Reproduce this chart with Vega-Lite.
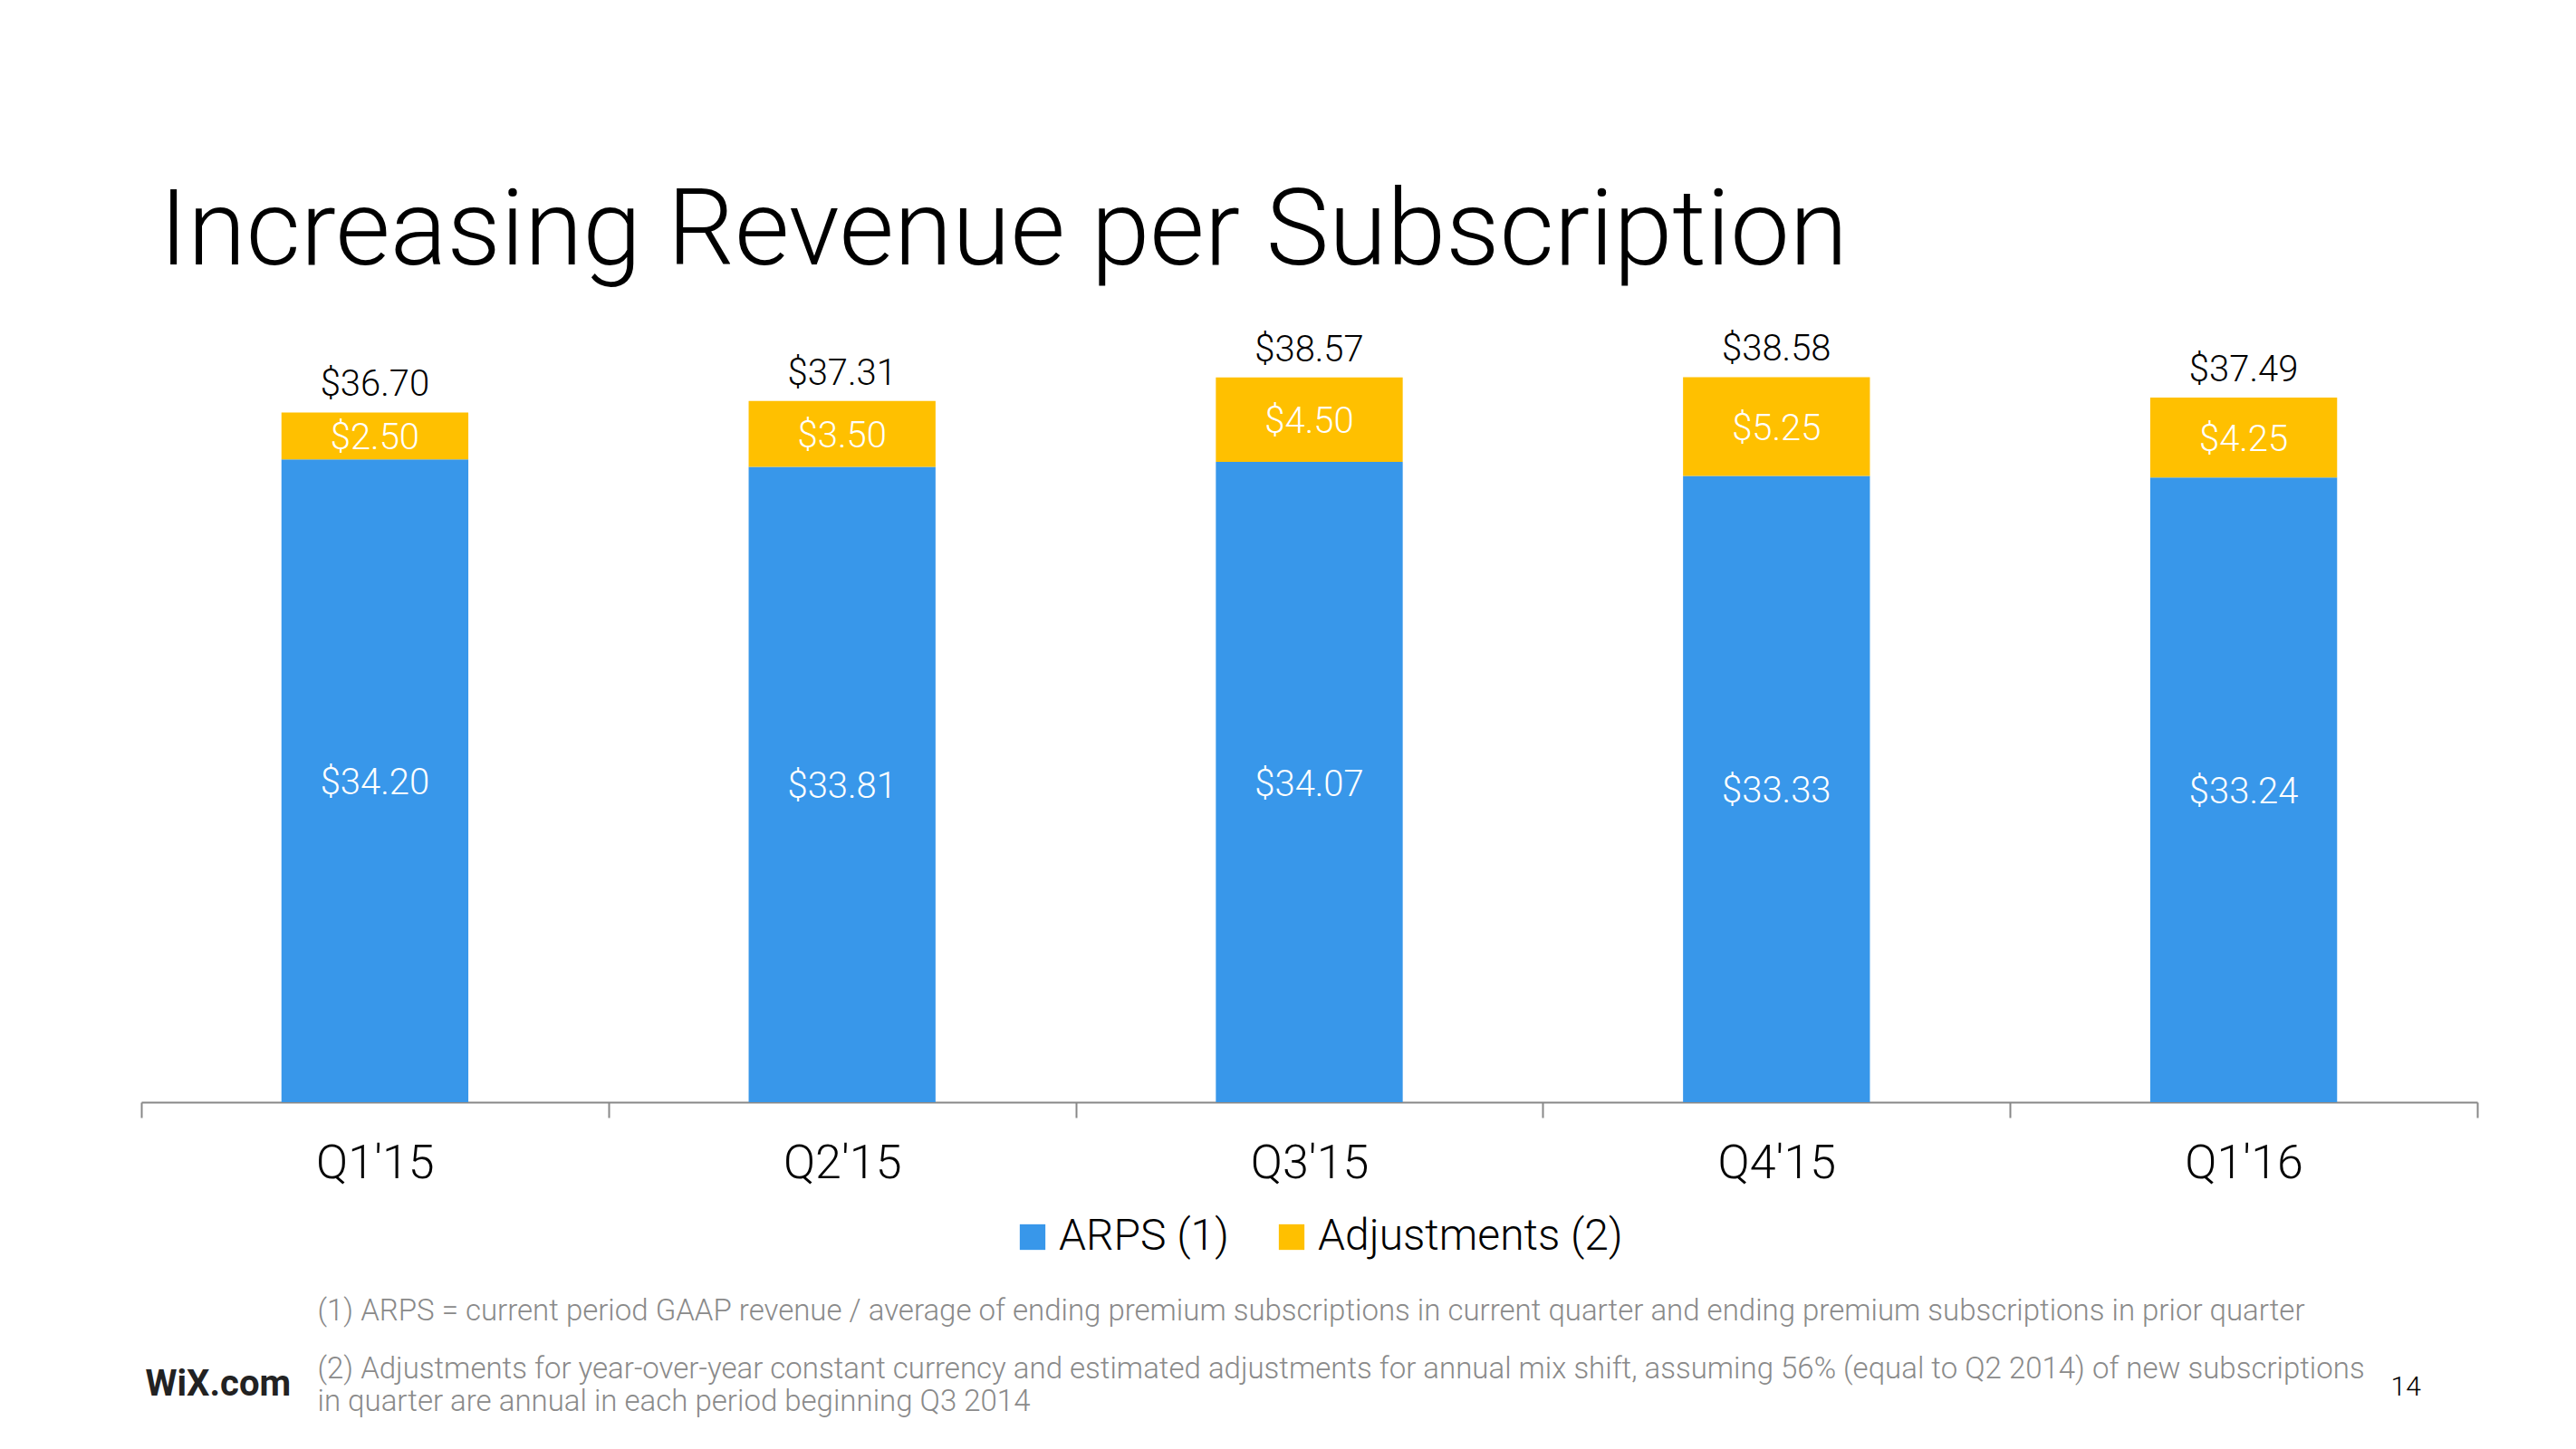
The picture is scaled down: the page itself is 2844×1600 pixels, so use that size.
{
  "$schema": "https://vega.github.io/schema/vega-lite/v6.json",
  "width": 2579,
  "height": 830,
  "autosize": "none",
  "padding": {"left": 156, "top": 387, "right": 109, "bottom": 383},
  "background": "white",
  "title": {
    "text": "Increasing Revenue per Subscription",
    "anchor": "start",
    "frame": "group",
    "dx": 20,
    "offset": 49,
    "fontSize": 117,
    "font": "Roboto Light, Roboto",
    "fontWeight": 300,
    "color": "#000000"
  },
  "datasets": {
    "parts": [
      {"quarter": "Q1'15", "series": "ARPS (1)", "value": 34.20},
      {"quarter": "Q1'15", "series": "Adjustments (2)", "value": 2.50},
      {"quarter": "Q2'15", "series": "ARPS (1)", "value": 33.81},
      {"quarter": "Q2'15", "series": "Adjustments (2)", "value": 3.50},
      {"quarter": "Q3'15", "series": "ARPS (1)", "value": 34.07},
      {"quarter": "Q3'15", "series": "Adjustments (2)", "value": 4.50},
      {"quarter": "Q4'15", "series": "ARPS (1)", "value": 33.33},
      {"quarter": "Q4'15", "series": "Adjustments (2)", "value": 5.25},
      {"quarter": "Q1'16", "series": "ARPS (1)", "value": 33.24},
      {"quarter": "Q1'16", "series": "Adjustments (2)", "value": 4.25}
    ],
    "totals": [
      {"quarter": "Q1'15", "total": 36.70},
      {"quarter": "Q2'15", "total": 37.31},
      {"quarter": "Q3'15", "total": 38.57},
      {"quarter": "Q4'15", "total": 38.58},
      {"quarter": "Q1'16", "total": 37.49}
    ]
  },
  "layer": [
    {
      "data": {"name": "parts"},
      "mark": {"type": "bar", "width": {"band": 0.4}},
      "encoding": {
        "x": {
          "field": "quarter",
          "type": "nominal",
          "sort": ["Q1'15", "Q2'15", "Q3'15", "Q4'15", "Q1'16"],
          "scale": {"paddingInner": 0, "paddingOuter": 0},
          "axis": {
            "orient": "bottom",
            "grid": false,
            "domainColor": "#888888",
            "domainWidth": 2,
            "tickColor": "#888888",
            "tickWidth": 2,
            "tickSize": 17,
            "tickBand": "extent",
            "labelAngle": 0,
            "labelFont": "Roboto Light, Roboto",
            "labelFontWeight": 300,
            "labelFontSize": 52,
            "labelColor": "#000000",
            "labelPadding": 25,
            "title": "(1) ARPS = current period GAAP revenue / average of ending premium subscriptions in current quarter and ending premium subscriptions in prior quarter",
            "titleFont": "Roboto Light, Roboto",
            "titleFontWeight": 300,
            "titleFontSize": 33,
            "titleColor": "#8a8a8a",
            "titleAlign": "left",
            "titleAnchor": "start",
            "titleBaseline": "alphabetic",
            "titleX": 194,
            "titleY": 240
          }
        },
        "y": {
          "field": "value",
          "type": "quantitative",
          "stack": "zero",
          "scale": {"domain": [0, 40], "nice": false},
          "axis": {
            "orient": "left",
            "domain": false,
            "ticks": false,
            "labels": false,
            "grid": false,
            "title": [
              "(2) Adjustments for year-over-year constant currency and estimated adjustments for annual mix shift, assuming 56% (equal to Q2 2014) of new subscriptions",
              "in quarter are annual in each period beginning Q3 2014"
            ],
            "titleAngle": 0,
            "titleAlign": "left",
            "titleAnchor": "start",
            "titleBaseline": "alphabetic",
            "titleFont": "Roboto Light, Roboto",
            "titleFontWeight": 300,
            "titleFontSize": 33,
            "titleColor": "#8a8a8a",
            "titleLineHeight": 36,
            "titleX": 194,
            "titleY": 1134
          }
        },
        "order": {"field": "series", "type": "nominal", "sort": "ascending"},
        "color": {
          "field": "series",
          "type": "nominal",
          "scale": {"domain": ["ARPS (1)", "Adjustments (2)"], "range": ["#3897EA", "#FFC000"]},
          "legend": {
            "orient": "none",
            "legendX": 960,
            "legendY": 955,
            "direction": "horizontal",
            "title": null,
            "symbolType": "square",
            "symbolSize": 800,
            "symbolStrokeWidth": 0,
            "labelFont": "Roboto Light, Roboto",
            "labelFontWeight": 300,
            "labelFontSize": 48,
            "labelColor": "#000000",
            "labelOffset": 5,
            "labelLimit": 800,
            "columnPadding": 45
          }
        }
      }
    },
    {
      "data": {"name": "parts"},
      "mark": {"type": "text", "color": "#ffffff", "font": "Roboto Light, Roboto", "fontWeight": 300, "fontSize": 40, "baseline": "middle", "dy": 3},
      "encoding": {
        "x": {
          "field": "quarter",
          "type": "nominal",
          "sort": ["Q1'15", "Q2'15", "Q3'15", "Q4'15", "Q1'16"],
          "axis": {
            "orient": "top",
            "domain": false,
            "ticks": false,
            "labels": false,
            "grid": false,
            "title": "WiX.com",
            "titleAlign": "left",
            "titleAnchor": "start",
            "titleBaseline": "alphabetic",
            "titleFont": "Roboto",
            "titleFontWeight": "bold",
            "titleFontSize": 40,
            "titleColor": "#222222",
            "titleX": 4,
            "titleY": 1153
          }
        },
        "y": {
          "field": "value",
          "type": "quantitative",
          "stack": "zero",
          "bandPosition": 0.5,
          "axis": {
            "orient": "right",
            "domain": false,
            "ticks": false,
            "labels": false,
            "grid": false,
            "title": "14",
            "titleAngle": 0,
            "titleAlign": "left",
            "titleBaseline": "alphabetic",
            "titleFont": "Roboto Light, Roboto",
            "titleFontWeight": 300,
            "titleFontSize": 30,
            "titleColor": "#000000",
            "titleX": -96,
            "titleY": 1153
          }
        },
        "order": {"field": "series", "type": "nominal", "sort": "ascending"},
        "detail": {"field": "series", "type": "nominal"},
        "text": {"field": "value", "type": "quantitative", "format": "$.2f"}
      }
    },
    {
      "data": {"name": "totals"},
      "mark": {"type": "text", "color": "#000000", "font": "Roboto Light, Roboto", "fontWeight": 300, "fontSize": 40, "baseline": "alphabetic", "dy": -18},
      "encoding": {
        "x": {
          "field": "quarter",
          "type": "nominal",
          "sort": ["Q1'15", "Q2'15", "Q3'15", "Q4'15", "Q1'16"],
          "axis": null
        },
        "y": {"field": "total", "type": "quantitative", "axis": null},
        "text": {"field": "total", "type": "quantitative", "format": "$.2f"}
      }
    }
  ],
  "resolve": {"axis": {"x": "independent", "y": "independent"}},
  "config": {"view": {"stroke": null}}
}
